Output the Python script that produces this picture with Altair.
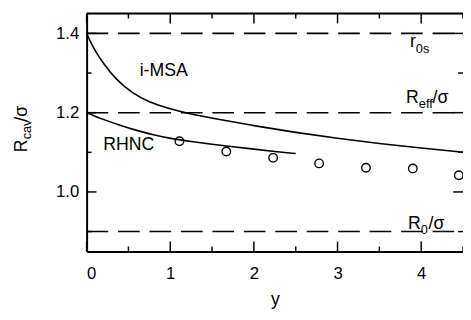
import altair as alt
import pandas as pd

# --- data ---
imsa_x = [0.0, 0.05, 0.1, 0.2, 0.35, 0.55, 0.75, 1.0, 1.25, 1.5, 2.0, 2.5, 3.0, 3.5, 4.0, 4.5]
imsa_y = [1.400, 1.377, 1.357, 1.324, 1.284, 1.248, 1.226, 1.209, 1.196, 1.186, 1.167, 1.150, 1.135, 1.122, 1.111, 1.100]

rhnc_x = [0.0, 0.1, 0.2, 0.4, 0.6, 0.8, 1.0, 1.25, 1.5, 1.75, 2.0, 2.25, 2.5]
rhnc_y = [1.200, 1.191, 1.183, 1.168, 1.155, 1.144, 1.135, 1.127, 1.120, 1.114, 1.108, 1.102, 1.097]

circ_x = [1.11, 1.67, 2.23, 2.78, 3.34, 3.90, 4.45]
circ_y = [1.128, 1.102, 1.086, 1.072, 1.061, 1.059, 1.042]

ref_y = [1.4, 1.2, 0.9]

x_major = [0, 1, 2, 3, 4]
x_minor = [0.5, 1.5, 2.5, 3.5, 4.5]
y_major = [1.0, 1.2, 1.4]
y_minor = [0.9, 1.1, 1.3]

X_DOMAIN = [0, 4.5]
Y_DOMAIN = [0.85, 1.45]
W, H = 383, 242
FONT = "Liberation Sans"

xs = alt.Scale(domain=X_DOMAIN, nice=False, zero=False)
ys = alt.Scale(domain=Y_DOMAIN, nice=False, zero=False)

imsa = pd.DataFrame({"x": imsa_x, "y": imsa_y})
rhnc = pd.DataFrame({"x": rhnc_x, "y": rhnc_y})
circ = pd.DataFrame({"x": circ_x, "y": circ_y})
refs = pd.DataFrame({"y": ref_y})

x_axis = alt.Axis(values=x_major, format="d", ticks=False, tickSize=0, grid=False,
                  domainColor="black", domainWidth=2, labelFont=FONT, labelFontSize=17,
                  labelColor="black", labelPadding=15, title="y", titleFont=FONT,
                  titleFontSize=18, titleFontWeight="normal", titleColor="black",
                  titlePadding=9)
y_axis = alt.Axis(values=y_major, format=".1f", ticks=False, tickSize=0, grid=False,
                  domainColor="black", domainWidth=2, labelFont=FONT, labelFontSize=17,
                  labelColor="black", labelPadding=8, title=None)

base_axes = alt.Chart(refs).mark_rule(strokeDash=[22, 10], strokeWidth=1.6, color="black").encode(
    x=alt.value(0), x2=alt.value(W),
    y=alt.Y("y:Q", scale=ys, axis=y_axis),
)
# bottom axis carrier
xcarrier = alt.Chart(pd.DataFrame({"x": [0]})).mark_point(opacity=0).encode(
    x=alt.X("x:Q", scale=xs, axis=x_axis), y=alt.value(H)
)

lines = []
for df in (imsa, rhnc):
    lines.append(alt.Chart(df).mark_line(color="black", strokeWidth=1.6, interpolate="basis").encode(
        x=alt.X("x:Q", scale=xs), y=alt.Y("y:Q", scale=ys)))

points = alt.Chart(circ).mark_point(shape="circle", size=75, filled=False, color="black",
                                    strokeWidth=1.4, opacity=1).encode(
    x=alt.X("x:Q", scale=xs), y=alt.Y("y:Q", scale=ys))

# frame top border
top = alt.Chart(pd.DataFrame({"a": [0]})).mark_rule(color="black", strokeWidth=2).encode(
    x=alt.value(0), x2=alt.value(W), y=alt.value(0))

# inward ticks
ticks = []
def xticks(vals, length):
    d = pd.DataFrame({"x": vals})
    b = alt.Chart(d).mark_rule(color="black", strokeWidth=1.5).encode(
        x=alt.X("x:Q", scale=xs), y=alt.value(H), y2=alt.value(H - length))
    t = alt.Chart(d).mark_rule(color="black", strokeWidth=1.5).encode(
        x=alt.X("x:Q", scale=xs), y=alt.value(0), y2=alt.value(length))
    return [b, t]
def yticks(vals, length):
    d = pd.DataFrame({"y": vals})
    l = alt.Chart(d).mark_rule(color="black", strokeWidth=1.5).encode(
        y=alt.Y("y:Q", scale=ys), x=alt.value(0), x2=alt.value(length))
    r = alt.Chart(d).mark_rule(color="black", strokeWidth=1.5).encode(
        y=alt.Y("y:Q", scale=ys), x=alt.value(W), x2=alt.value(W - length))
    return [l, r]
ticks += xticks(x_major, 10) + xticks(x_minor, 5) + yticks(y_major, 10) + yticks(y_minor, 5)

def label(text, x, y, size=18, angle=0):
    kw = dict(align="left", baseline="alphabetic", font=FONT, fontSize=size, color="black")
    if angle:
        kw["angle"] = angle
    return alt.Chart(pd.DataFrame({"t": [text]})).mark_text(**kw).encode(
        text="t:N", x=alt.value(x), y=alt.value(y))

texts = [
    label("i-MSA", 54, 64),
    label("RHNC", 17, 139),
    label("r", 329, 34), label("0s", 335, 40, 13),
    label("R", 325, 91), label("eff", 338, 96, 13), label("/σ", 352, 91),
    label("R", 327, 219), label("0", 340, 224, 13), label("/σ", 348, 219),
    # rotated y-axis title R_cav/σ
    label("R", -61, 141, 18, 270), label("cav", -57, 128, 13, 270), label("/σ", -61, 110, 18, 270),
]

chart = alt.layer(base_axes, xcarrier, *lines, points, top, *ticks, *texts).properties(
    width=W, height=H,
    autosize=alt.AutoSizeParams(type="none"),
    padding={"left": 80, "top": 3, "right": 0, "bottom": 60},
).configure_view(stroke=None).configure(background="white")

chart.save("out.html", embed_options={"renderer": "svg", "actions": False})
